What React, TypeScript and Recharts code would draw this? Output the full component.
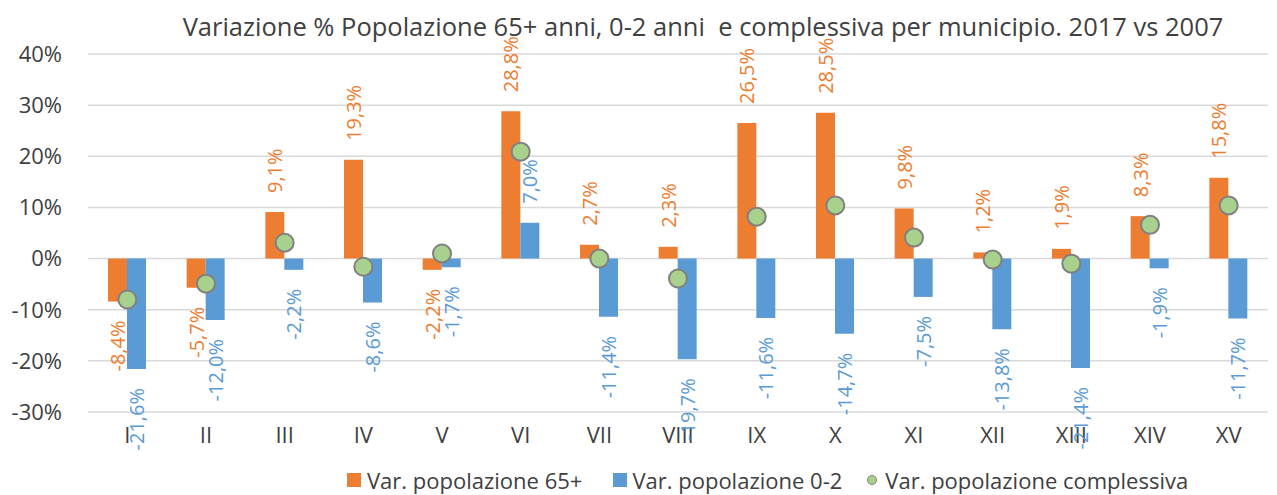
import React from 'react';
import { ComposedChart, Bar, Line, XAxis, YAxis, CartesianGrid, Legend, LabelList } from 'recharts';

const municipi = ['I', 'II', 'III', 'IV', 'V', 'VI', 'VII', 'VIII', 'IX', 'X', 'XI', 'XII', 'XIII', 'XIV', 'XV'];
const var65 = [-8.4, -5.7, 9.1, 19.3, -2.2, 28.8, 2.7, 2.3, 26.5, 28.5, 9.8, 1.2, 1.9, 8.3, 15.8];
const var02 = [-21.6, -12.0, -2.2, -8.6, -1.7, 7.0, -11.4, -19.7, -11.6, -14.7, -7.5, -13.8, -21.4, -1.9, -11.7];
const varTot = [-8.0, -4.9, 3.1, -1.6, 1.0, 20.9, 0.0, -3.9, 8.2, 10.4, 4.1, -0.2, -1.0, 6.6, 10.4];
const yTicks = [-30, -20, -10, 0, 10, 20, 30, 40];

const ORANGE = '#ed7d31';
const BLUE = '#5b9bd5';
const GREEN = '#a9d18e';
const TEXT = '#404040';
const FONT = '"Open Sans", sans-serif';

const data = municipi.map((m, i) => ({
  name: m,
  v65: var65[i],
  v02: var02[i],
  tot: varTot[i],
}));

const fmt = (v: number) => v.toFixed(1).replace('.', ',') + '%';

// vertical labels sitting just past the end of each bar
function makeLabel(color: string) {
  return (props: any) => {
    const { x, y, width, height, value } = props;
    const cx = Number(x) + Number(width) / 2;
    const y1 = Number(y);
    const y2 = Number(y) + Number(height);
    const pos = value >= 0;
    const ty = pos ? Math.min(y1, y2) - 19 : Math.max(y1, y2) + 19;
    return (
      <text
        x={cx}
        y={ty}
        transform={`rotate(-90 ${cx} ${ty})`}
        textAnchor={pos ? 'start' : 'end'}
        dominantBaseline="central"
        fill={color}
        fontSize={20}
        fontFamily={FONT}
      >
        {fmt(value)}
      </text>
    );
  };
}

const renderLegend = () => (
  <div style={{ display: 'flex', alignItems: 'center', height: 30, lineHeight: '30px', paddingLeft: 347, fontFamily: FONT, fontSize: 22, color: TEXT, whiteSpace: 'nowrap' }}>
    <span style={{ width: 14, height: 14, background: ORANGE, display: 'inline-block', marginRight: 6 }} />
    <span style={{ marginRight: 31 }}>Var. popolazione 65+</span>
    <span style={{ width: 14, height: 14, background: BLUE, display: 'inline-block', marginRight: 5 }} />
    <span style={{ marginRight: 25 }}>Var. popolazione 0-2</span>
    <span style={{ width: 8, height: 8, background: GREEN, border: '1.5px solid #808080', borderRadius: '50%', display: 'inline-block', marginRight: 8 }} />
    <span>Var. popolazione complessiva</span>
  </div>
);

export default function App() {
  return (
    <div style={{ position: 'absolute', left: 0, top: 0, width: 1277, height: 495, overflow: 'hidden', background: '#fff' }}>
      <div
        style={{
          position: 'absolute', left: 0, top: 10, width: 1406, textAlign: 'center',
          fontFamily: FONT, fontSize: 25.5, color: TEXT, whiteSpace: 'pre', lineHeight: '32px',
        }}
      >
        {'Variazione % Popolazione 65+ anni, 0-2 anni  e complessiva per municipio. 2017 vs 2007'}
      </div>
      <ComposedChart
        width={1277}
        height={495}
        data={data}
        margin={{ top: 54, right: 9, bottom: 0, left: 0 }}
        barGap={0}
        barSize={19}
      >
        <CartesianGrid vertical={false} stroke="#d9d9d9" strokeWidth={1.5} />
        <XAxis
          dataKey="name"
          axisLine={false}
          tickLine={false}
          height={53}
          tickSize={0}
          tickMargin={15}
          tick={{ fill: TEXT, fontSize: 22, fontFamily: FONT }}
        />
        <YAxis
          width={88}
          domain={[-30, 40]}
          ticks={yTicks}
          axisLine={false}
          tickLine={false}
          tickSize={0}
          tickMargin={26}
          tickFormatter={(v: number) => `${v}%`}
          tick={{ fill: TEXT, fontSize: 22, fontFamily: FONT }}
        />
        <Legend verticalAlign="bottom" content={renderLegend} wrapperStyle={{ left: 0, width: 1277 }} />
        <Bar dataKey="v65" name="Var. popolazione 65+" fill={ORANGE} isAnimationActive={false}>
          <LabelList dataKey="v65" content={makeLabel(ORANGE)} />
        </Bar>
        <Bar dataKey="v02" name="Var. popolazione 0-2" fill={BLUE} isAnimationActive={false}>
          <LabelList dataKey="v02" content={makeLabel(BLUE)} />
        </Bar>
        <Line
          dataKey="tot"
          name="Var. popolazione complessiva"
          stroke="none"
          dot={{ r: 9, fill: GREEN, stroke: '#808080', strokeWidth: 2 }}
          activeDot={false}
          isAnimationActive={false}
        />
      </ComposedChart>
    </div>
  );
}
